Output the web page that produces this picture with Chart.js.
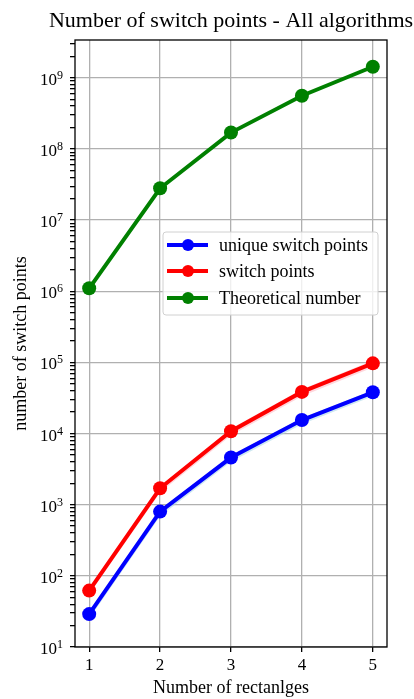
<!DOCTYPE html>
<html>
<head>
<meta charset="utf-8">
<script src="https://cdn.jsdelivr.net/npm/chart.js@4"></script>
<style>
  html, body { margin: 0; padding: 0; background: #fff; }
  #wrap { width: 414px; height: 699px; }
</style>
</head>
<body>
<div id="wrap"><canvas id="chart" width="414" height="699"></canvas></div>
<script>
// data
const rectangles = [1, 2, 3, 4, 5];
const uniqueSwitch = [29, 800, 4600, 15500, 38000];
const uniqueLow = [25, 690, 4000, 13500, 33500];
const uniqueHigh = [31, 850, 4900, 16500, 40500];
const switchPts = [62, 1700, 10800, 38500, 97000];
const switchLow = [55, 1480, 9400, 33500, 85000];
const switchHigh = [66, 1850, 11800, 42000, 106000];
const theoretical = [1.1e6, 2.8e7, 1.7e8, 5.6e8, 1.43e9];
const xTicks = [1, 2, 3, 4, 5];
const yDecades = [1, 2, 3, 4, 5, 6, 7, 8, 9];

const seriesNames = ['unique switch points', 'switch points', 'Theoretical number'];
const seriesColors = ['#0000ff', '#ff0000', '#008000'];

const FONT = '"Liberation Serif", "DejaVu Serif", serif';

const pts = vals => vals.map((v, i) => ({ x: rectangles[i], y: v }));

function lineSet(label, vals, color) {
    return {
        label: label,
        data: pts(vals),
        borderColor: color,
        backgroundColor: color,
        borderWidth: 4,
        pointRadius: 7,
        pointHoverRadius: 7,
        pointBorderWidth: 0,
        fill: false,
        order: 1
    };
}

function bandSet(vals, fillColor, fill) {
    return {
        label: '_band',
        data: pts(vals),
        borderWidth: 0,
        borderColor: 'transparent',
        backgroundColor: fillColor,
        pointRadius: 0,
        fill: fill,
        order: 10
    };
}

// frame, y tick labels (10 with exponent), legend and title drawn by hand
const extras = {
    id: 'extras',
    afterDraw(chart) {
        const ctx = chart.ctx;
        const a = chart.chartArea;
        const yScale = chart.scales.y;
        ctx.save();
        ctx.strokeStyle = '#000';
        ctx.lineWidth = 1.3;
        ctx.strokeRect(a.left, a.top, a.right - a.left, a.bottom - a.top);

        // y tick labels
        ctx.fillStyle = '#000';
        ctx.textBaseline = 'alphabetic';
        yDecades.forEach(e => {
            const y = yScale.getPixelForValue(Math.pow(10, e));
            const right = a.left - 12;
            ctx.font = '12px ' + FONT;
            ctx.textAlign = 'right';
            const expW = ctx.measureText(String(e)).width;
            ctx.fillText(String(e), right, y + 1);
            ctx.font = '17px ' + FONT;
            ctx.fillText('10', right - expW, y + 7);
        });

        ctx.font = '22px ' + FONT;
        ctx.textAlign = 'center';
        ctx.textBaseline = 'middle';
        ctx.fillText('Number of switch points - All algorithms', (a.left + a.right) / 2, 21);

        // legend box
        const bx = 163, by = 232, bw = 215, bh = 83;
        ctx.fillStyle = 'rgba(255,255,255,0.8)';
        ctx.strokeStyle = '#d0d0d0';
        ctx.lineWidth = 1;
        ctx.beginPath();
        ctx.roundRect(bx, by, bw, bh, 3);
        ctx.fill();
        ctx.stroke();

        const rows = [245, 271, 298];
        ctx.font = '18px ' + FONT;
        ctx.textAlign = 'left';
        seriesNames.forEach((name, i) => {
            const y = rows[i];
            ctx.strokeStyle = seriesColors[i];
            ctx.lineWidth = 4;
            ctx.beginPath();
            ctx.moveTo(167, y);
            ctx.lineTo(208, y);
            ctx.stroke();
            ctx.fillStyle = seriesColors[i];
            ctx.beginPath();
            ctx.arc(188, y, 6, 0, Math.PI * 2);
            ctx.fill();
            ctx.fillStyle = '#000';
            ctx.fillText(name, 219, y + 1);
        });
        ctx.restore();
    }
};

new Chart(document.getElementById('chart'), {
    type: 'line',
    data: {
        datasets: [
            bandSet(uniqueLow, 'transparent', false),
            bandSet(uniqueHigh, 'rgba(173,216,230,0.6)', '-1'),
            bandSet(switchLow, 'transparent', false),
            bandSet(switchHigh, 'rgba(255,182,193,0.55)', '-1'),
            lineSet(seriesNames[0], uniqueSwitch, seriesColors[0]),
            lineSet(seriesNames[1], switchPts, seriesColors[1]),
            lineSet(seriesNames[2], theoretical, seriesColors[2])
        ]
    },
    options: {
        responsive: false,
        animation: false,
        layout: { padding: { top: 40, right: 27, left: 0, bottom: 0 } },
        plugins: {
            legend: { display: false },
            title: { display: false },
            tooltip: { enabled: false }
        },
        scales: {
            x: {
                type: 'linear',
                min: 0.8,
                max: 5.2,
                afterBuildTicks: scale => { scale.ticks = xTicks.map(v => ({ value: v })); },
                afterFit: scale => { scale.height = 52; },
                grid: { color: '#b0b0b0', lineWidth: 1.3, tickLength: 5, tickColor: '#000' },
                border: { display: false },
                ticks: { color: '#000', font: { family: FONT, size: 17 }, padding: 3, maxRotation: 0 },
                title: {
                    display: true,
                    text: 'Number of rectanlges',
                    color: '#000',
                    font: { family: FONT, size: 18 },
                    padding: { top: 0, bottom: 0 }
                }
            },
            y: {
                type: 'logarithmic',
                min: 10,
                max: 3.4e9,
                afterBuildTicks: scale => {
                    const t = [];
                    yDecades.forEach(e => {
                        for (let m = 1; m <= 9; m++) {
                            const v = m * Math.pow(10, e);
                            if (v <= 3.4e9) t.push({ value: v, major: m === 1 });
                        }
                    });
                    scale.ticks = t;
                },
                afterFit: scale => { scale.width = 75; },
                grid: {
                    color: ctx => (ctx.tick && ctx.tick.major ? '#b0b0b0' : 'transparent'),
                    lineWidth: 1.3,
                    tickLength: 5,
                    tickColor: '#000'
                },
                border: { display: false },
                ticks: {
                    autoSkip: false,
                    color: '#000',
                    font: { family: FONT, size: 15 },
                    callback: () => ''
                },
                title: {
                    display: true,
                    text: 'number of switch points',
                    color: '#000',
                    font: { family: FONT, size: 18 },
                    padding: { top: 10, bottom: 0 }
                }
            }
        }
    },
    plugins: [extras]
});
</script>
</body>
</html>
